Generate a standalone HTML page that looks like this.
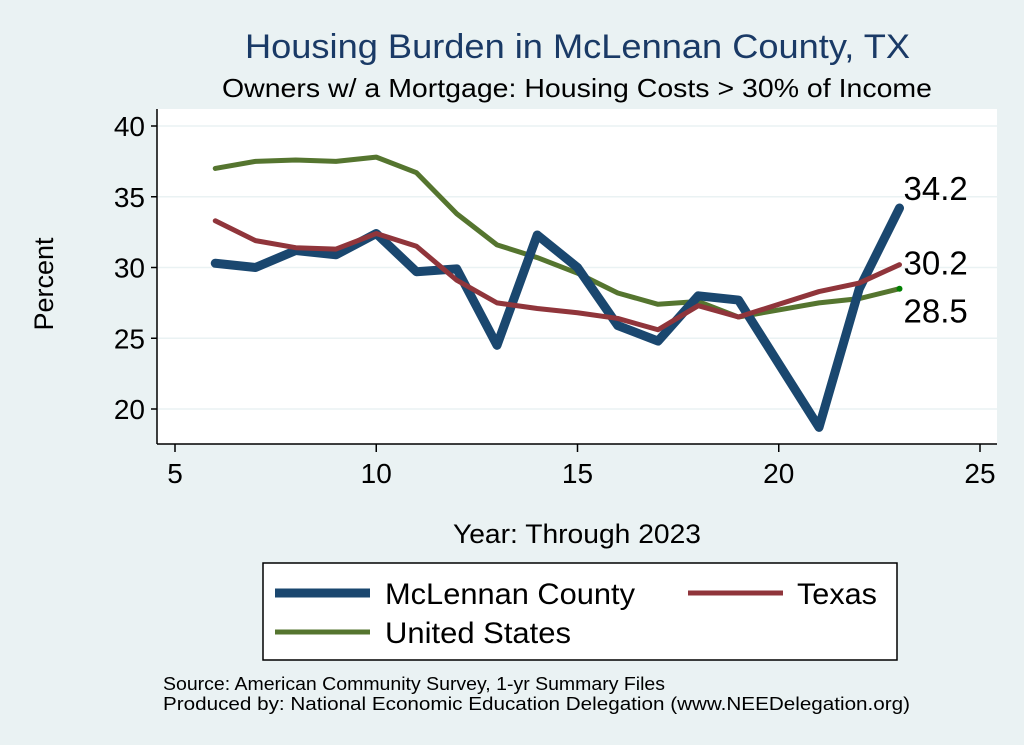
<!DOCTYPE html>
<html><head><meta charset="utf-8"><style>
body{margin:0;background:#eaf2f3;}
svg{display:block;font-family:"Liberation Sans",Arial,sans-serif;}
</style></head><body>
<svg id="chart" width="1024" height="745" viewBox="0 0 1024 745">
<rect x="0" y="0" width="1024" height="745" fill="#eaf2f3"/>
<text x="245" y="58" font-size="34" fill="#1a3a66" textLength="665" lengthAdjust="spacingAndGlyphs">Housing Burden in McLennan County, TX</text>
<text x="222" y="97" font-size="26" fill="#000" textLength="710" lengthAdjust="spacingAndGlyphs">Owners w/ a Mortgage: Housing Costs &gt; 30% of Income</text>
<rect x="157" y="109" width="840" height="335" fill="#fff"/>
<g id="grid"></g><g id="axes"></g><g id="series"></g><g id="labels"></g>
<text transform="translate(53,284) rotate(-90)" font-size="27" text-anchor="middle">Percent</text>
<text x="453" y="543" font-size="27" textLength="248" lengthAdjust="spacingAndGlyphs">Year: Through 2023</text>
<g>
<rect x="263" y="563" width="634" height="97" fill="#fff" stroke="#000" stroke-width="1.5"/>
<line x1="275" y1="593" x2="370" y2="593" stroke="#1a476f" stroke-width="9"/>
<text x="385" y="604" font-size="30" textLength="250" lengthAdjust="spacingAndGlyphs">McLennan County</text>
<line x1="688" y1="593" x2="783" y2="593" stroke="#90353b" stroke-width="5"/>
<text x="797" y="604" font-size="30" textLength="80" lengthAdjust="spacingAndGlyphs">Texas</text>
<line x1="275" y1="632" x2="370" y2="632" stroke="#55752f" stroke-width="5"/>
<text x="385" y="643" font-size="30" textLength="186" lengthAdjust="spacingAndGlyphs">United States</text>
</g>
<text x="163" y="690" font-size="18" textLength="502" lengthAdjust="spacingAndGlyphs">Source: American Community Survey, 1-yr Summary Files</text>
<text x="163" y="710" font-size="18" textLength="747" lengthAdjust="spacingAndGlyphs">Produced by: National Economic Education Delegation (www.NEEDelegation.org)</text>
</svg>
<script>
const years=[6,7,8,9,10,11,12,13,14,15,16,17,18,19,21,22,23];
const mclennan=[30.3,30.0,31.2,30.9,32.4,29.7,29.9,24.5,32.3,30.0,25.9,24.8,28.0,27.7,18.7,28.5,34.2];
const texas=[33.3,31.9,31.4,31.3,32.4,31.5,29.1,27.5,27.1,26.8,26.4,25.6,27.3,26.5,28.3,28.9,30.2];
const us=[37.0,37.5,37.6,37.5,37.8,36.7,33.8,31.6,30.7,29.6,28.2,27.4,27.6,26.5,27.5,27.8,28.5];
const xTicks=[5,10,15,20,25];
const yTicks=[20,25,30,35,40];
const NS="http://www.w3.org/2000/svg";
function X(v){return 175+(v-5)*40.25;}
function Y(v){return 409-(v-20)*14.15;}
function mk(t,a,p){const e=document.createElementNS(NS,t);for(const k in a)e.setAttribute(k,a[k]);p.appendChild(e);return e;}
const grid=document.getElementById('grid'),axes=document.getElementById('axes'),ser=document.getElementById('series'),lab=document.getElementById('labels');
mk('line',{x1:157,y1:109,x2:157,y2:444,stroke:'#000','stroke-width':1.5},axes);
mk('line',{x1:157,y1:444,x2:997,y2:444,stroke:'#000','stroke-width':1.5},axes);
yTicks.forEach(v=>{
 const g=mk('line',{x1:158,y1:Y(v),x2:997,y2:Y(v),stroke:'#eaf2f3','stroke-width':1.5},grid);
 
 
 mk('line',{x1:151,y1:Y(v),x2:157,y2:Y(v),stroke:'#000','stroke-width':1.5},axes);
 const t=mk('text',{x:145,y:Y(v)+10,'font-size':28,'text-anchor':'end'},axes);t.textContent=v;
 
 
});
xTicks.forEach(v=>{
 mk('line',{x1:X(v),y1:444,x2:X(v),y2:452,stroke:'#000','stroke-width':1.5},axes);
 const t=mk('text',{x:X(v),y:483,'font-size':28,'text-anchor':'middle'},axes);t.textContent=v;
 
 
});
function line(vals,color,w,name){
 const pts=years.map((y,i)=>X(y)+','+Y(vals[i])).join(' ');
 const p=mk('polyline',{points:pts,fill:'none',stroke:color,'stroke-width':w,'stroke-linejoin':'round','stroke-linecap':'round'},ser);
 
 
}
line(us,'#55752f',5,'line-united-states');
line(mclennan,'#1a476f',9,'line-mclennan-county');
line(texas,'#90353b',5,'line-texas');
const n=years.length-1;
mk('circle',{cx:X(years[n]),cy:Y(us[n]),r:3,fill:'#008000'},ser);
[[mclennan[n],-8,'label-mclennan-last'],[texas[n],10,'label-texas-last'],[us[n],34,'label-us-last']].forEach(([v,dy,nm])=>{
 const t=mk('text',{x:X(years[n])+4,y:Y(v)+dy,'font-size':33},lab);
 t.textContent=v.toFixed(1);
 
 
});
</script>
</body></html>
